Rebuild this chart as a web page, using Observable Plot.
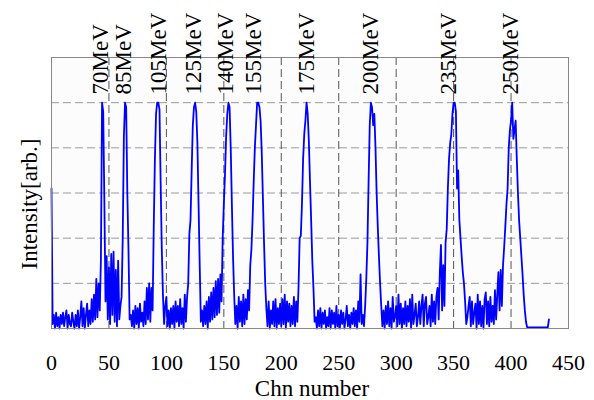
<!DOCTYPE html>
<html><head><meta charset="utf-8">
<script src="https://cdn.jsdelivr.net/npm/d3@7"></script>
<script src="https://cdn.jsdelivr.net/npm/@observablehq/plot@0.6"></script>
<style>html,body{margin:0;padding:0;background:#fff}</style>
</head><body><div id="chart"></div>
<script>
// Intensity per channel (0..433), in % of the peak maximum
const intensity = [
  62, 2, 6, 0, 7, 1, 5, 0, 6, 2,
  7, 1, 5, 8, 0, 6, 2, 1, 7, 3,
  0, 6, 1, 8, 0, 5, 12, 1, 9, 0,
  6, 11, 1, 8, 2, 13, 3, 15, 4, 22,
  5, 20, 8, 30, 100, 96, 57, 12, 32, 4,
  27, 2, 33, 6, 34, 3, 26, 1, 30, 4,
  10, 14, 40, 85, 100, 98, 60, 35, 4, 6,
  1, 8, 0, 10, 2, 9, 0, 11, 3, 7,
  1, 12, 2, 18, 4, 20, 3, 18, 8, 45,
  75, 95, 100, 100, 97, 65, 35, 15, 2, 10,
  14, 1, 8, 0, 9, 2, 10, 0, 12, 3,
  10, 1, 13, 2, 9, 0, 15, 3, 14, 20,
  42, 48, 70, 90, 98, 100, 96, 82, 55, 28,
  3, 8, 1, 10, 2, 12, 0, 14, 3, 16,
  4, 18, 5, 21, 6, 22, 7, 24, 12, 40,
  55, 68, 85, 95, 100, 98, 80, 55, 32, 15,
  2, 10, 0, 14, 3, 12, 1, 15, 2, 13,
  4, 17, 8, 28, 35, 48, 65, 80, 90, 100,
  100, 98, 92, 78, 58, 38, 20, 9, 1, 12,
  0, 8, 2, 12, 1, 13, 0, 9, 2, 11,
  1, 13, 2, 15, 0, 12, 3, 11, 1,
  10, 2, 14, 1, 12, 3, 18, 40, 41, 55,
  75, 86, 92, 100, 95, 83, 65, 48, 30, 18,
  3, 5, 0, 8, 1, 9, 0, 7, 2, 8,
  0, 5, 1, 9, 0, 8, 2, 7, 0, 10,
  1, 6, 0, 8, 2, 7, 0, 4, 10, 1,
  6, 0, 7, 2, 9, 1, 8, 0, 12, 3,
  24, 2, 6, 1, 10, 22, 38, 65, 90, 100,
  98, 90, 95, 80, 60, 45, 32, 20, 10, 1,
  8, 0, 10, 2, 12, 1, 9, 0, 14, 3,
  5, 10, 1, 15, 2, 11, 0, 9, 2, 12,
  1, 10, 3, 13, 0, 15, 2, 6, 11, 1,
  5, 12, 2, 10, 15, 1, 11, 14, 2, 5,
  10, 1, 15, 3, 12, 2, 14, 18, 4, 25,
  37, 8, 28, 10, 38, 44, 62, 75, 82, 86,
  95, 100, 100, 96, 62, 70, 48, 40, 32, 25,
  20, 12, 2, 5, 10, 14, 1, 12, 2, 7,
  11, 0, 15, 2, 12, 1, 10, 0, 13, 16,
  2, 12, 1, 14, 3, 10, 2, 17, 4,
  15, 25, 8, 26, 10, 28, 36, 45, 55, 62,
  80, 88, 92, 100, 84, 88, 92, 75, 60, 48,
  40, 32, 24, 15, 8, 3, 0.5, 0.5, 0.5, 0.5,
  0.5, 0.5, 0.5, 0.5, 0.5, 0.5, 0.5, 0.5, 0.5, 0.5,
  0.5, 0.5, 0.5, 0.5, 0.5, 4
];
const peakLabels = ["70MeV", "85MeV", "105MeV", "125MeV", "140MeV", "155MeV", "175MeV", "200MeV", "235MeV", "250MeV"];
const peakChannels = [42.6, 62.9, 93.4, 123.8, 151.6, 176.2, 222, 277.6, 345.8, 399.5];
const xTicks = [0, 50, 100, 150, 200, 250, 300, 350, 400, 450];
const xGrid = [50, 100, 150, 200, 250, 300, 350, 400];
const yGrid = [20, 40, 60, 80, 100];

const data = intensity.map((v, i) => ({ch: i, v}));
const peaks = peakLabels.map((label, i) => ({label, ch: peakChannels[i]}));

const chart = Plot.plot({
  width: 594,
  height: 400,
  marginLeft: 51,
  marginRight: 26,
  marginTop: 57,
  marginBottom: 72,
  x: {domain: [0, 450]},
  y: {domain: [0, 120], axis: null},
  style: {fontFamily: "'Liberation Serif', 'Times New Roman', serif", fontSize: "23px", color: "#000", background: "#fff", overflow: "visible"},
  marks: [
    Plot.frame({fill: "#fcfcfc", stroke: null}),
    Plot.ruleY(yGrid, {stroke: "#9a9a9a", strokeDasharray: "8,4", strokeWidth: 1}),
    Plot.ruleX(xGrid, {stroke: "#555", strokeDasharray: "8,4", strokeWidth: 1}),
    Plot.line(data, {x: "ch", y: "v", stroke: "#0000ff", strokeWidth: 1.8}),
    Plot.frame({stroke: "#888", strokeWidth: 1}),
    Plot.axisX(xTicks, {tickSize: 0, tickPadding: 26, label: null, fill: "#000", fontSize: 22}),
    Plot.text(peaks, {x: "ch", text: "label", frameAnchor: "top", dy: 37, rotate: -90, textAnchor: "start", lineAnchor: "middle", fill: "#000", fontSize: 23}),
    Plot.text(["Chn number"], {frameAnchor: "bottom", dx: 2, dy: 67.5, lineAnchor: "bottom", textAnchor: "middle", fill: "#000", fontSize: 23}),
    Plot.text(["Intensity[arb.]"], {frameAnchor: "left", rotate: -90, dx: -22, dy: 11, textAnchor: "middle", lineAnchor: "middle", fill: "#000", fontSize: 23})
  ]
});
document.getElementById("chart").appendChild(chart);
</script>
</body></html>
